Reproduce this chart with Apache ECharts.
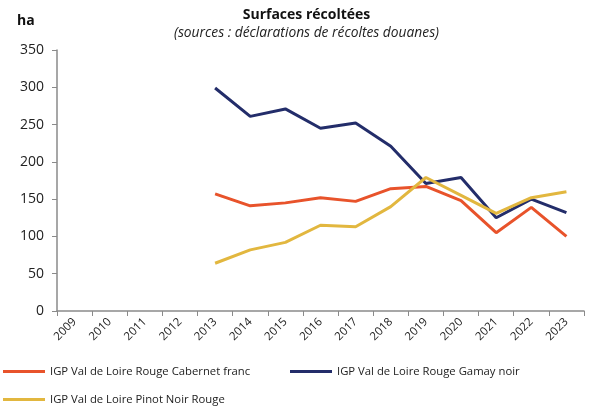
<!DOCTYPE html>
<html><head><meta charset="utf-8">
<script src="https://cdn.jsdelivr.net/npm/echarts@6/dist/echarts.min.js"></script>
<style>html,body{margin:0;padding:0;background:#fff}#c{width:613px;height:407px}</style>
</head><body><div id="c"></div>
<script>
const years = ['2009','2010','2011','2012','2013','2014','2015','2016','2017','2018','2019','2020','2021','2022','2023'];
const cabernet = [null,null,null,null,157,141,145,152,147,164,167,148,105,139,100];
const gamay = [null,null,null,null,299,261,271,245,252,221,171,179,125,150,132];
const pinot = [null,null,null,null,64,82,92,115,113,140,179,155,131,152,160];
const names = ['IGP Val de Loire Rouge Cabernet franc','IGP Val de Loire Rouge Gamay noir','IGP Val de Loire Pinot Noir Rouge'];
const colors = ['#E8532B','#232D6A','#E2B73F'];
const font = '"Open Sans", sans-serif';
const chart = echarts.init(document.getElementById('c'));
const legendBase = {orient:'horizontal', itemWidth:42, itemHeight:3, icon:'rect', textStyle:{fontFamily:font,fontSize:11.3,color:'#222'}, itemGap:4, padding:0};
chart.setOption({
  animation:false,
  title:[
    {text:'Surfaces récoltées', left:'center', top:3, textStyle:{fontFamily:font,fontWeight:'bold',fontSize:14,color:'#111'}},
    {text:'(sources : déclarations de récoltes douanes)', left:'center', top:21, textStyle:{fontFamily:font,fontStyle:'italic',fontWeight:'normal',fontSize:13.8,color:'#222'}},
    {text:'ha', left:12, top:9, textStyle:{fontFamily:font,fontWeight:'bold',fontSize:14,color:'#111'}}
  ],
  legend:[
    Object.assign({data:[names[0]], left:3, top:366}, legendBase),
    Object.assign({data:[names[1]], left:290, top:366}, legendBase),
    Object.assign({data:[names[2]], left:3, top:394}, legendBase)
  ],
  grid:{left:57, right:29, top:50, bottom:96},
  xAxis:{type:'category', data:years, boundaryGap:true,
    axisLine:{lineStyle:{color:'#8a8a8a',width:1.5}},
    axisTick:{show:true, length:5, lineStyle:{color:'#8a8a8a'}},
    axisLabel:{rotate:45, fontFamily:font, fontSize:11.5, color:'#222', margin:9}},
  yAxis:{type:'value', min:0, max:350, interval:50,
    axisLine:{show:true, lineStyle:{color:'#8a8a8a',width:1.5}},
    axisTick:{show:true, length:5, lineStyle:{color:'#8a8a8a'}},
    splitLine:{show:false},
    axisLabel:{fontFamily:font, fontSize:14, color:'#222', margin:13}},
  series:[
    {name:names[0], type:'line', data:cabernet, showSymbol:false, symbol:'none', lineStyle:{width:3,color:colors[0]}, itemStyle:{color:colors[0]}},
    {name:names[1], type:'line', data:gamay, showSymbol:false, symbol:'none', lineStyle:{width:3,color:colors[1]}, itemStyle:{color:colors[1]}},
    {name:names[2], type:'line', data:pinot, showSymbol:false, symbol:'none', lineStyle:{width:3,color:colors[2]}, itemStyle:{color:colors[2]}}
  ]
});
</script></body></html>
